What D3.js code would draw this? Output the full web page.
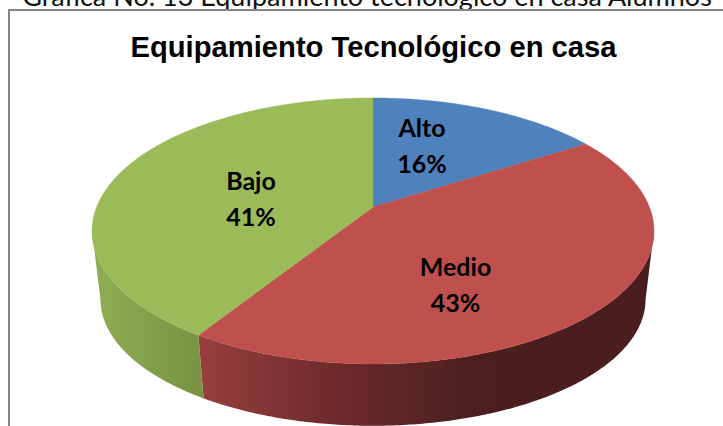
<!DOCTYPE html>
<html><head><meta charset="utf-8">
<script src="https://cdn.jsdelivr.net/npm/d3@7"></script>
<style>html,body{margin:0;padding:0;background:#fff;overflow:hidden}svg{display:block}</style>
</head><body><svg id="c" width="723" height="426"></svg>
<script>
const categories = ["Alto", "Medio", "Bajo"];
const values = [16, 43, 41];
const colors = ["#4f81bd", "#c0504d", "#9bbb59"];
const captionText = "Gráfica No. 13 Equipamiento tecnológico en casa Alumnos";
const titleText = "Equipamiento Tecnológico en casa";
const labelPositions = [[422,137],[455.5,276],[251,190]];

const svg = d3.select("#c");
const defs = svg.append("defs");

// perspective projection of the unit disc
const apex = [373, 207], a = 276.4, b = 128.7, k = 0.18;
const project = th => {
  const u = Math.sin(th), v = -Math.cos(th), w = 1 - k * v;
  return [apex[0] + a * u / w, apex[1] + b * v / w];
};
const dropX = 0.97, dropY = 0.95, dropC = 80;
const lower = p => [apex[0] + (p[0] - apex[0]) * dropX, p[1] * dropY + dropC];
const samples = (t0, t1) => {
  const n = Math.max(2, Math.ceil(Math.abs(t1 - t0) / 0.01));
  return d3.range(n + 1).map(i => t0 + (t1 - t0) * i / n);
};
const line = d3.line();
const arcs = d3.pie().sort(null).value(d => d)(values);

svg.append("text").attr("x", 367).attr("y", 6).attr("text-anchor", "middle")
  .attr("font-family", "Lato").attr("font-size", 27).attr("fill", "#111").text(captionText);

svg.append("rect").attr("x", 9).attr("y", 10).attr("width", 760).attr("height", 460)
  .attr("fill", "#fff").attr("stroke", "#868686").attr("stroke-width", 2);

svg.append("text").attr("x", 373.5).attr("y", 57).attr("text-anchor", "middle")
  .attr("font-family", "Liberation Sans, Arial, sans-serif").attr("font-weight", "bold").attr("font-size", 29.2)
  .attr("fill", "#000").text(titleText);

// side gradients
const sideGrad = (id, stops) => {
  const g = defs.append("linearGradient").attr("id", id).attr("gradientUnits", "userSpaceOnUse")
    .attr("x1", 92).attr("x2", 654).attr("y1", 0).attr("y2", 0);
  stops.forEach(s => g.append("stop").attr("offset", (s[0] - 92) / 562).attr("stop-color", s[1]));
};
sideGrad("g1", [[92, "#8fae54"], [200, "#799342"]]);
sideGrad("g2", [[200, "#983f3e"], [330, "#6f2b2b"], [470, "#4c1f1f"], [654, "#4a1e1e"]]);
const sideIds = ["", "g2", "g1"];

// visible wall spans from the left to the right tangent of the rim
const tanLeft = 2 * Math.PI - Math.acos(-k), tanRight = Math.acos(-k);
arcs.forEach((d, i) => {
  const t0 = Math.max(d.startAngle, tanRight), t1 = Math.min(d.endAngle, tanLeft);
  if (t0 >= t1 || !sideIds[i]) return;
  const top = samples(t0, t1).map(project);
  const pts = top.concat(top.map(lower).reverse());
  svg.append("path").attr("d", line(pts) + "Z").attr("fill", `url(#${sideIds[i]})`);
});

arcs.forEach((d, i) => {
  const rim = samples(d.startAngle, d.endAngle).map(project);
  svg.append("path").attr("d", line([apex, ...rim]) + "Z").attr("fill", colors[i])
    .attr("stroke", colors[i]).attr("stroke-width", 0.4);
});

categories.forEach((c, i) => {
  const t = svg.append("text").attr("text-anchor", "middle")
    .attr("font-family", "Lato").attr("font-weight", "bold").attr("font-size", 25).attr("fill", "#000");
  t.append("tspan").attr("x", labelPositions[i][0]).attr("y", labelPositions[i][1]).text(c);
  t.append("tspan").attr("x", labelPositions[i][0]).attr("y", labelPositions[i][1] + 35.5).text(values[i] + "%");
});
</script></body></html>
